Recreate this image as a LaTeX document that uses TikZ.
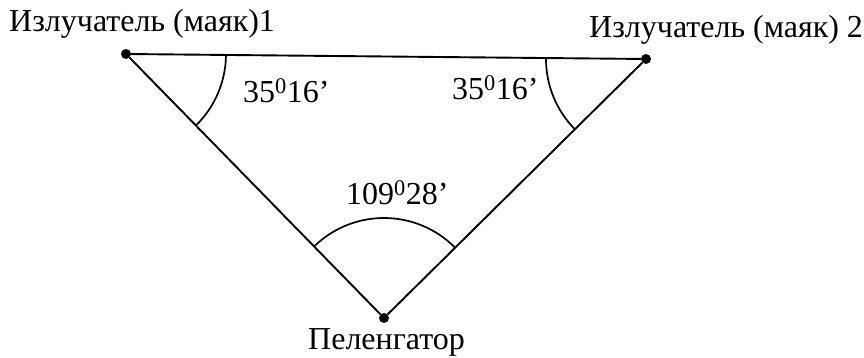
\documentclass[tikz,border=0pt]{standalone}
\usepackage{fontspec}
\setmainfont{Liberation Serif}
\usetikzlibrary{angles}

\tikzset{
    beacon/.style={circle, fill, inner sep=0pt, minimum size=10pt},
    side/.style={line width=1.9pt},
    arcmark/.style={draw, line width=1.7pt, angle radius=100pt},
    caption/.style={inner sep=0pt, font=\fontsize{32}{36}\selectfont}
}

\begin{document}
\begin{tikzpicture}[x=1pt, y=1pt]
    \useasboundingbox (0,0) rectangle (864,358);

    \node[beacon] (m1) at (126,304) {};
    \node[beacon] (m2) at (646,299) {};
    \node[beacon] (pel) at (384,40) {};

    \draw[side] (m1) -- (m2) -- (pel) -- (m1);

    \pic[arcmark] {angle = pel--m1--m2};
    \pic[arcmark] {angle = m1--m2--pel};
    \pic[arcmark] {angle = m2--pel--m1};

    \node[caption, anchor=base west] (t1) at (9,326) {Излучатель (маяк)1};
    \node[caption, anchor=base west] (t2) at (589,320) {Излучатель (маяк) 2};
    \node[caption, anchor=base west] (t3) at (308,8) {Пеленгатор};

    \node[caption, anchor=base west] (a1) at (243,255) {35\textsuperscript{0}16'};
    \node[caption, anchor=base west] (a2) at (452,258) {35\textsuperscript{0}16'};
    \node[caption, anchor=base west] (a3) at (346,153) {109\textsuperscript{0}28'};
\end{tikzpicture}
\end{document}
